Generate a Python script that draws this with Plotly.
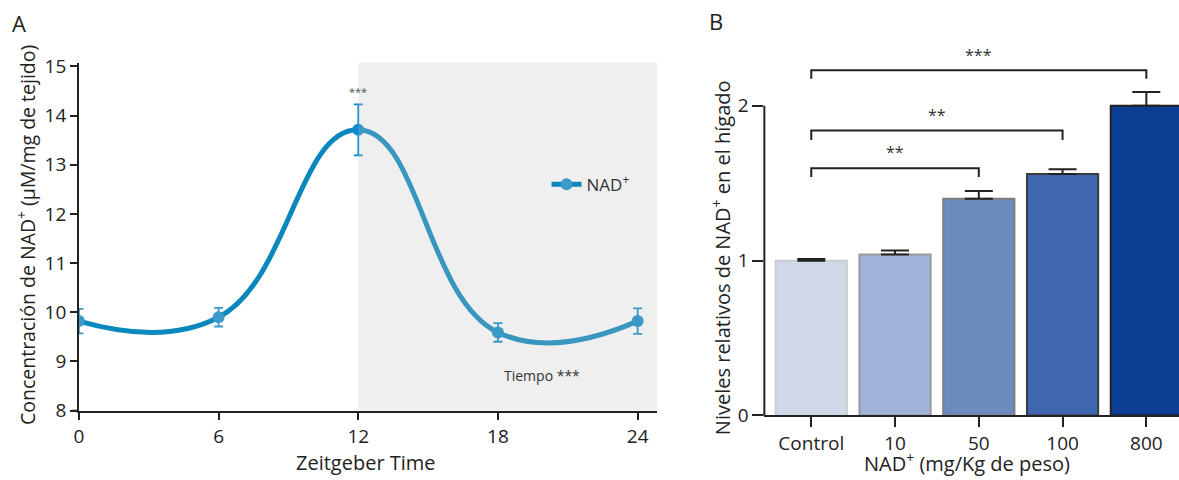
import plotly.graph_objects as go

# ---------------- data ----------------
zt_hours = [0, 6, 12, 18, 24]
nad_conc = [9.82, 9.90, 13.71, 9.59, 9.82]
nad_err = [0.25, 0.19, 0.52, 0.19, 0.26]
zt_ticks = [0, 6, 12, 18, 24]
conc_ticks = [8, 9, 10, 11, 12, 13, 14, 15]
dark_start = 12

dose_labels = ["Control", "10", "50", "100", "800"]
dose_pos = [0, 1, 2, 3, 4]
rel_levels = [1.00, 1.04, 1.40, 1.56, 2.00]
rel_err = [0.01, 0.025, 0.05, 0.03, 0.09]
rel_ticks = [0, 1, 2]
# comparisons: (from index, to index, bracket level, leg level, label level, label)
brackets = [
    (0, 2, 1.597, 1.54, 1.70, "**"),
    (0, 3, 1.840, 1.78, 1.94, "**"),
    (0, 4, 2.230, 2.175, 2.33, "***"),
]

bar_fill = ["#cfd9ea", "#a0b3d8", "#6e8bc0", "#3f67b0", "#0c3e94"]
bar_edge = ["#cccccc", "#999999", "#7f7f7f", "#3c3c3c", "#222222"]

FONT = "Open Sans"
INK = "#222222"
LINE_DARK = "#0a87bd"
LIGHT = "#3b9ac8"
LIGHT_COMP = "#0c8cca"

W, H = 1179, 480
xA_range = [0, 24.85]
yA_range = [8, 15.08]
xB_range = [-0.56, 4.39]
yB_range = [0, 2.42]


def px(x):
    """target screen x (px) -> paper fraction"""
    return (x - 4) / 0.9966 / W


def py(y):
    """target screen y (px from top) -> paper fraction"""
    return 1 - ((y - 7.74) / 0.9677) / H


fig = go.Figure()

# error bars (panel A), split by light/dark phase
early = [i for i, t in enumerate(zt_hours) if t < dark_start]
late = [i for i, t in enumerate(zt_hours) if t >= dark_start]
for idx, col in ((early, LIGHT), (late, LIGHT_COMP)):
    fig.add_trace(go.Scatter(
        x=[zt_hours[i] for i in idx], y=[nad_conc[i] for i in idx],
        mode="markers", marker=dict(size=1, opacity=0),
        error_y=dict(type="data", array=[nad_err[i] for i in idx],
                     color=col, thickness=1.8, width=4.5),
        showlegend=False, hoverinfo="skip", xaxis="x", yaxis="y"))

fig.add_trace(go.Scatter(
    x=zt_hours, y=nad_conc, mode="lines+markers",
    line=dict(color=LINE_DARK, width=5, shape="spline", smoothing=1.3),
    marker=dict(size=12, color=[LIGHT if t < dark_start else LIGHT_COMP for t in zt_hours]),
    name="NAD<sup>+</sup>", xaxis="x", yaxis="y"))

# bars (panel B)
fig.add_trace(go.Bar(
    x=dose_pos, y=rel_levels, width=0.85,
    marker=dict(color=bar_fill, line=dict(color=bar_edge, width=2)),
    error_y=dict(type="data", symmetric=False, array=rel_err,
                 arrayminus=[0] * len(rel_err), color=INK, thickness=2, width=14),
    showlegend=False, xaxis="x2", yaxis="y2"))

axis_common = dict(showgrid=False, zeroline=False, ticks="outside",
                   tickcolor=INK, linecolor=INK,
                   tickfont=dict(family=FONT, size=19, color=INK))

fig.update_layout(
    width=W, height=H,
    margin=dict(l=0, r=0, t=0, b=0),
    paper_bgcolor="white", plot_bgcolor="rgba(0,0,0,0)",
    font=dict(family=FONT, color=INK),
    xaxis=dict(domain=[px(78), px(657)], range=xA_range, tickvals=zt_ticks,
               showline=True, linewidth=1.6, ticklen=8, tickwidth=1.6, anchor="y",
               **axis_common),
    yaxis=dict(domain=[py(415), py(62)], range=yA_range, tickvals=conc_ticks,
               showline=True, linewidth=1.6, ticklen=7, tickwidth=1.6, anchor="x",
               **axis_common),
    xaxis2=dict(domain=[px(764), 1.0], range=xB_range, tickvals=dose_pos,
                ticktext=dose_labels, showline=True, linewidth=2, ticklen=10,
                tickwidth=2, anchor="y2", **axis_common),
    yaxis2=dict(domain=[py(420), py(40)], range=yB_range, tickvals=rel_ticks,
                showline=False, ticklen=11, tickwidth=2, anchor="x2", **axis_common),
    legend=dict(x=px(546), y=py(186), xanchor="left", yanchor="middle",
                bgcolor="rgba(0,0,0,0)", itemwidth=30,
                font=dict(family=FONT, size=17, color="#333333")),
    showlegend=True,
)

shapes = []
# dark phase shading (drawn above, semi-transparent)
shapes.append(dict(type="rect", xref="x", yref="y domain", x0=dark_start, x1=xA_range[1],
                   y0=0, y1=1, fillcolor="#c1c1c1", opacity=0.26, line=dict(width=0),
                   layer="above"))
# axis offsets (GraphPad style)
shapes.append(dict(type="line", xref="paper", yref="y", x0=px(71), x1=px(78),
                   y0=yA_range[0], y1=yA_range[0], line=dict(color=INK, width=1.6)))
shapes.append(dict(type="line", xref="paper", yref="y2", x0=px(753), x1=px(765),
                   y0=0, y1=0, line=dict(color=INK, width=2)))
# y axis line of panel B ending at the top tick
shapes.append(dict(type="line", xref="x2 domain", yref="y2", x0=0, x1=0,
                   y0=rel_ticks[0], y1=rel_ticks[-1], line=dict(color=INK, width=2)))
# significance brackets
annotations = []
for a, b, lvl, leg, lab, txt in brackets:
    shapes.append(dict(type="path", xref="x2", yref="y2",
                       path=f"M {dose_pos[a]},{leg} L {dose_pos[a]},{lvl} L {dose_pos[b]},{lvl} L {dose_pos[b]},{leg}",
                       line=dict(color=INK, width=2)))
    annotations.append(dict(xref="x2", yref="y2", x=(dose_pos[a] + dose_pos[b]) / 2, y=lab,
                            text=txt, showarrow=False, xanchor="center", yanchor="middle",
                            font=dict(family=FONT, size=16, color="#333333")))


def note(x, y, text, size=20, color=INK, angle=0, xref="paper"):
    return dict(xref=xref, yref="paper", x=x, y=y, text=text, showarrow=False,
                xanchor="center", yanchor="middle", textangle=angle,
                font=dict(family=FONT, size=size, color=color))


annotations += [
    note(px(18), py(22), "A", size=22),
    note(px(716), py(20), "B", size=22),
    note(px(25), py(237), "Concentración de NAD<sup>+</sup> (µM/mg de tejido)", size=19.5, angle=-90),
    note(px(365), py(468), "Zeitgeber Time"),
    note(px(721), py(260), "Niveles relativos de NAD<sup>+</sup> en el hígado", angle=-90),
    note(px(967), py(468), "NAD<sup>+</sup> (mg/Kg de peso)"),
    note(dark_start, py(91), "***", size=11, color="#555555", xref="x"),
    note(px(541), py(379), "Tiempo ***", size=14, color="#333333"),
]

fig.update_layout(shapes=shapes, annotations=annotations)
fig.write_html("out.html")
